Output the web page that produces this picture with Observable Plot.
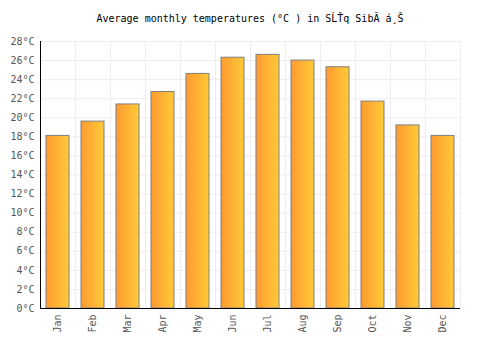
<!DOCTYPE html>
<html>
<head>
<meta charset="utf-8">
<script src="https://cdn.jsdelivr.net/npm/d3@7"></script>
<script src="https://cdn.jsdelivr.net/npm/@observablehq/plot@0.6"></script>
<style>
  body { margin: 0; background: #fff; }
  #title { height: 28px; line-height: 38px; text-align: center; font-family: "DejaVu Sans Mono", monospace; font-size: 10px; color: #000; white-space: pre; overflow: visible; }
</style>
</head>
<body>
<div id="title">Average monthly temperatures (°C ) in SĹŤq SibĂ á¸Š</div>
<div id="chart"></div>
<script>
const months = ["Jan","Feb","Mar","Apr","May","Jun","Jul","Aug","Sep","Oct","Nov","Dec"];
const temps = [18.1, 19.6, 21.4, 22.7, 24.6, 26.3, 26.6, 26.0, 25.3, 21.7, 19.2, 18.1];
const yTicks = [0,2,4,6,8,10,12,14,16,18,20,22,24,26,28];

const data = months.map((m, i) => ({month: m, i, temp: temps[i]}));
const font = "DejaVu Sans Mono, monospace";

const svg = Plot.plot({
  width: 500,
  height: 322,
  marginTop: 13,
  marginBottom: 42,
  marginLeft: 40,
  marginRight: 40,
  style: {fontFamily: font, fontSize: "10px", background: "#fff"},
  x: {domain: [0, 12]},
  y: {domain: [0, 28]},
  marks: [
    Plot.gridY(yTicks, {stroke: "#eeeeee", strokeOpacity: 1, strokeWidth: 1}),
    Plot.gridX(d3.range(13), {stroke: "#eeeeee", strokeOpacity: 1, strokeWidth: 1}),
    Plot.rectY(data, {x1: "i", x2: d => d.i + 1, y: "temp", insetLeft: 6, insetRight: 6, fill: "url(#barGrad)", stroke: "#7f7f7f", strokeWidth: 1}),
    Plot.axisY({ticks: yTicks, tickSize: 0, tickPadding: 6, tickFormat: d => d + "°C", fill: "#555", label: null}),
    Plot.axisX({ticks: d3.range(12).map(i => i + 0.5), tickSize: 0, tickPadding: 6, tickRotate: -90, tickFormat: d => months[Math.floor(d)], fill: "#555", label: null}),
    Plot.ruleX([0], {stroke: "#000", strokeWidth: 1}),
    Plot.ruleY([0], {stroke: "#000", strokeWidth: 1})
  ]
});

const defs = d3.create("svg:defs");
const g = defs.append("linearGradient").attr("id", "barGrad").attr("x1", "0").attr("x2", "1").attr("y1", "0").attr("y2", "0");
g.append("stop").attr("offset", "0%").attr("stop-color", "#ff9a30");
g.append("stop").attr("offset", "100%").attr("stop-color", "#ffca38");
svg.insertBefore(defs.node(), svg.firstChild);

document.getElementById("chart").appendChild(svg);
</script>
</body>
</html>
